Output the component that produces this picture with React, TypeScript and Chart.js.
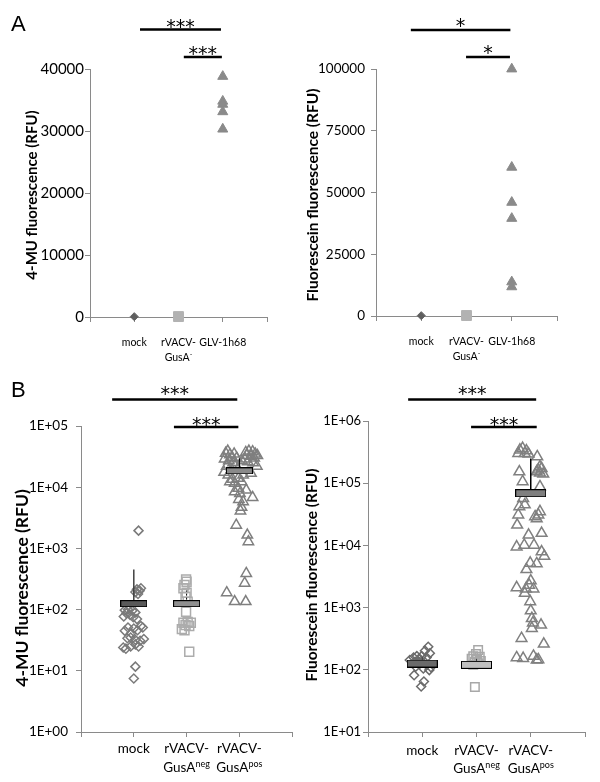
import React, { useEffect, useRef } from 'react';
import { Chart, registerables } from 'chart.js';

Chart.register(...registerables);

// ---------------- Panel A data ----------------
const A_CATEGORY_LINES: [string, string][][] = [
  [['mock', '']],
  [['rVACV-', ''], ['GusA', '-']],
  [['GLV-1h68', '']],
];
const A_4MU_MOCK = [60];
const A_4MU_GUSA = [70];
const A_4MU_GLV = [38800, 34800, 34300, 33100, 30300];
const A_FLUO_MOCK = [150];
const A_FLUO_GUSA = [200];
const A_FLUO_GLV = [100000, 60200, 46000, 39500, 13800, 11800];

// ---------------- Panel B data ----------------
const B_CATEGORY_LINES: [string, string][][] = [
  [['mock', '']],
  [['rVACV-', ''], ['GusA', 'neg']],
  [['rVACV-', ''], ['GusA', 'pos']],
];
const B_4MU_TICKS = [1, 10, 100, 1000, 10000, 100000];
const B_FLUO_TICKS = [10, 100, 1000, 10000, 100000, 1000000];

const B_4MU_MOCK_X = [1.09, 1.06, 1.11, 1.08, 1.135, 1.03, 0.83, 0.89, 0.97, 0.86, 0.93, 1.03, 0.81, 0.99, 1.06, 1.135, 0.89, 1.0, 0.83, 1.07, 0.95, 1.17, 0.94, 1.03, 1.12, 1.19, 0.88, 0.85, 0.94, 1.03, 1.09, 0.8, 1.03, 1.0];
const B_4MU_MOCK_Y = [1950, 214, 204, 180, 223, 193, 98, 100, 96, 87, 82, 90, 77, 75, 70, 54, 51, 49, 45, 46, 41, 51, 35, 32, 31, 33, 34, 23, 25, 27, 25, 24, 11.7, 7.5];

const B_4MU_NEG_X = [1.99, 2.0, 1.96, 1.94, 2.0, 1.98, 2.02, 1.99, 1.94, 2.02, 2.08, 1.98, 2.05, 1.91, 1.96, 2.05];
const B_4MU_NEG_Y = [310, 286, 252, 223, 189, 162, 135, 92, 61, 63, 61, 56, 54, 48, 46, 20.5];

const B_4MU_POS_X = [
  2.74, 2.78, 2.82, 2.86, 2.72, 2.8, 2.88, 2.93, 2.76, 2.97, 2.85, 2.71, 2.9, 2.95,
  3.12, 3.18, 3.25, 3.3, 3.14, 3.22, 3.1, 3.28, 3.34, 3.16, 3.26, 3.33, 3.05,
  2.79, 2.87, 2.82, 2.98, 3.07, 3.22, 2.91, 3.04, 2.98, 2.91, 3.01, 3.13, 3.25, 2.99, 3.07, 3.04, 3.02,
  2.94, 3.15, 3.17, 3.13, 3.1, 2.76, 2.91, 3.12,
];
const B_4MU_POS_Y = [
  36000, 39000, 34000, 31000, 29000, 27000, 25000, 23000, 22000, 20000, 19500, 17500, 35000, 30000,
  37000, 39000, 38000, 35000, 33000, 32000, 29000, 30000, 33000, 26000, 25000, 22000, 27000,
  15800, 13500, 12300, 14000, 15800, 16900, 11600, 12300, 9600, 8400, 7900, 9000, 6800, 6300, 5800, 4700, 4100,
  2400, 1650, 1290, 390, 270, 189, 135, 135,
];

const B_FLUO_MOCK_X = [1.11, 1.05, 1.14, 0.99, 1.08, 0.84, 0.9, 0.95, 0.77, 1.02, 0.87, 0.96, 1.08, 1.16, 1.13, 1.02, 0.88, 0.85, 1.03, 0.98];
const B_FLUO_MOCK_Y = [235, 203, 184, 166, 158, 158, 166, 148, 144, 140, 135, 127, 120, 110, 99, 105, 112, 82, 65, 54];

const B_FLUO_NEG_X = [2.03, 1.99, 1.94, 2.06, 1.91, 2.01, 2.08, 1.97, 2.04, 1.94, 1.97];
const B_FLUO_NEG_Y = [208, 180, 165, 162, 150, 145, 138, 135, 128, 120, 53];

const B_FLUO_POS_X = [
  2.8, 2.85, 2.92, 2.77, 2.89, 2.96, 3.12, 3.17, 3.14, 3.2, 3.11, 3.23, 3.17, 2.79, 2.85, 3.17,
  2.86, 2.79, 2.89, 2.77, 2.75, 3.17, 3.14, 3.08, 3.11, 2.96, 3.2, 2.74, 2.88, 3.06, 3.2, 3.25,
  2.99, 3.11, 2.92, 2.74, 3.0, 2.97, 2.91, 3.05, 2.89, 2.99, 3.0, 3.02, 3.04, 3.19, 3.02, 2.83,
  3.24, 2.74, 2.86, 3.05, 3.11, 3.14,
];
const B_FLUO_POS_Y = [
  342000, 364000, 333000, 302000, 302000, 295000, 267000, 184000, 163000, 173000, 153000, 141000, 146000, 153000, 106000, 88000,
  57000, 42000, 45000, 31000, 21300, 35000, 31000, 29000, 27000, 14700, 15700, 9500, 10100, 10100, 7900, 6700,
  5200, 5100, 4100, 2100, 2700, 2300, 2000, 2000, 1700, 1250, 890, 670, 570, 525, 465, 320,
  260, 157, 153, 166, 144, 146,
];

const B_4MU_MEANS = [125, 125, 18500];
const B_4MU_ERR_TOP = [450, 205, 29500];
const B_FLUO_MEANS = [126, 120, 69000];
const B_FLUO_ERR_TOP = [160, 150, 250000];

// ---------------- helpers ----------------
const AXIS = '#8a8a8a';

function pts(xs: number[], ys: number[]) {
  return xs.map((x, i) => ({ x, y: ys[i] }));
}
function atX(x: number, ys: number[]) {
  return ys.map((y) => ({ x, y }));
}
function makeBox(w: number, h: number, fill: string) {
  const c = document.createElement('canvas');
  c.width = w;
  c.height = h;
  const g = c.getContext('2d')!;
  g.fillStyle = fill;
  g.fillRect(0, 0, w, h);
  g.strokeStyle = '#000';
  g.lineWidth = 1;
  g.strokeRect(0.5, 0.5, w - 1, h - 1);
  return c;
}
function scat(data: any[], style: string, r: number, color: string, fill: string, bw = 1.5) {
  return {
    type: 'scatter',
    data,
    pointStyle: style,
    pointRadius: r,
    borderColor: color,
    backgroundColor: fill,
    pointBorderWidth: bw,
    borderWidth: bw,
    showLine: false,
    clip: false,
  };
}
function errLine(x: number, lo: number, hi: number, color: string, width: number, dash: number[] = []) {
  return {
    type: 'line',
    data: [{ x, y: lo }, { x, y: hi }],
    borderColor: color,
    borderWidth: width,
    borderDash: dash,
    pointRadius: 0,
    showLine: true,
    fill: false,
    clip: false,
  };
}
function boxDs(x: number, y: number, w: number, h: number, fill: string) {
  return {
    type: 'scatter',
    data: [{ x, y }],
    pointStyle: makeBox(w, h, fill),
    pointRadius: 5,
    clip: false,
  };
}
const expLabel = (v: any) => {
  const e = Math.round(Math.log10(Number(v)));
  return '1E+' + (e < 10 ? '0' : '') + e;
};
const plainLabel = (v: any) => String(v);

interface SigBar {
  from: number;
  to: number;
  y: number;
  stars: string;
  starDy: number;
}
interface PanelSpec {
  width: number;
  height: number;
  area: { left: number; top: number; right: number; bottom: number };
  yScale: any;
  tickSize: number;
  tickPad: number;
  yTitle: string;
  yTitleSize: number;
  yTitleX: number;
  yTitleY: number;
  catLines: [string, string][][];
  catSize: number;
  supSize: number;
  catY: number;
  catGap: number;
  sig: SigBar[];
  letter?: { text: string; x: number; y: number };
  datasets: () => any[];
}

function annotationPlugin(spec: PanelSpec) {
  return {
    id: 'annot',
    afterDraw(chart: any) {
      const ctx: CanvasRenderingContext2D = chart.ctx;
      const xs = chart.scales.x;
      ctx.save();
      // significance bars
      for (const s of spec.sig) {
        const x1 = xs.getPixelForValue(s.from);
        const x2 = xs.getPixelForValue(s.to);
        ctx.strokeStyle = '#000';
        ctx.lineWidth = 2.5;
        ctx.beginPath();
        ctx.moveTo(x1, s.y);
        ctx.lineTo(x2, s.y);
        ctx.stroke();
        ctx.fillStyle = '#000';
        ctx.font = '19px "DejaVu Sans"';
        ctx.textAlign = 'center';
        ctx.textBaseline = 'alphabetic';
        ctx.fillText(s.stars, (x1 + x2) / 2, s.y + s.starDy);
      }
      // category labels
      ctx.fillStyle = '#000';
      spec.catLines.forEach((lines, i) => {
        const cx = xs.getPixelForValue(i + 1);
        lines.forEach(([main, sup], j) => {
          const y = spec.catY + j * spec.catGap;
          ctx.font = `${spec.catSize}px Lato`;
          const w1 = ctx.measureText(main).width;
          ctx.font = `${spec.supSize}px Lato`;
          const w2 = sup ? ctx.measureText(sup).width : 0;
          const x0 = cx - (w1 + w2) / 2;
          ctx.textAlign = 'left';
          ctx.textBaseline = 'middle';
          ctx.font = `${spec.catSize}px Lato`;
          ctx.fillText(main, x0, y);
          if (sup) {
            ctx.font = `${spec.supSize}px Lato`;
            ctx.fillText(sup, x0 + w1, y - spec.catSize * 0.3);
          }
        });
      });
      // y axis title
      ctx.save();
      ctx.translate(spec.yTitleX, spec.yTitleY);
      ctx.rotate(-Math.PI / 2);
      ctx.font = `bold ${spec.yTitleSize}px Lato`;
      ctx.textAlign = 'center';
      ctx.textBaseline = 'middle';
      ctx.fillText(spec.yTitle, 0, 0);
      ctx.restore();
      // panel letter
      if (spec.letter) {
        ctx.font = '22px "Liberation Sans"';
        ctx.textAlign = 'left';
        ctx.textBaseline = 'alphabetic';
        ctx.fillText(spec.letter.text, spec.letter.x, spec.letter.y);
      }
      ctx.restore();
    },
  };
}

function buildConfig(spec: PanelSpec): any {
  const a = spec.area;
  return {
    type: 'scatter',
    data: { datasets: spec.datasets() },
    options: {
      responsive: false,
      maintainAspectRatio: false,
      animation: false,
      events: [],
      layout: { padding: { left: 0, top: a.top, right: spec.width - a.right, bottom: 0 } },
      plugins: { legend: { display: false }, tooltip: { enabled: false } },
      scales: {
        x: {
          type: 'linear',
          min: 0,
          max: 4,
          afterFit: (s: any) => {
            s.height = spec.height - a.bottom;
          },
          ticks: { stepSize: 1, callback: () => '', padding: 0 },
          grid: { drawOnChartArea: false, drawTicks: true, tickLength: 5, color: AXIS, lineWidth: 1 },
          border: { display: true, color: AXIS, width: 1 },
        },
        y: {
          ...spec.yScale,
          afterFit: (s: any) => {
            s.width = a.left;
          },
          ticks: {
            ...(spec.yScale.ticks || {}),
            font: { family: 'Lato', size: spec.tickSize },
            color: '#000',
            padding: spec.tickPad,
          },
          grid: { drawOnChartArea: false, drawTicks: true, tickLength: 5, color: AXIS, lineWidth: 1 },
          border: { display: true, color: AXIS, width: 1 },
        },
      },
    },
    plugins: [annotationPlugin(spec)],
  };
}

// ---------------- panel specs ----------------
const SPEC_A1: PanelSpec = {
  width: 300,
  height: 372,
  area: { left: 90, top: 69, right: 267, bottom: 317 },
  yScale: { type: 'linear', min: 0, max: 40000, ticks: { stepSize: 10000, callback: plainLabel } },
  tickSize: 15,
  tickPad: 1,
  yTitle: '4-MU fluorescence (RFU)',
  yTitleSize: 15,
  yTitleX: 32,
  yTitleY: 195,
  catLines: A_CATEGORY_LINES,
  catSize: 10.5,
  supSize: 7,
  catY: 343,
  catGap: 15,
  sig: [
    { from: 1.13, to: 2.96, y: 29.5, stars: '***', starDy: 3 },
    { from: 2.12, to: 2.98, y: 57, stars: '***', starDy: 3 },
  ],
  letter: { text: 'A', x: 11, y: 31 },
  datasets: () => [
    scat(atX(1, A_4MU_MOCK), 'rectRot', 4, '#5f5f5f', '#5f5f5f', 1),
    scat(atX(2, A_4MU_GUSA), 'rect', 7, '#b2b2b2', '#b2b2b2', 1),
    scat(atX(3, A_4MU_GLV), 'triangle', 5.8, '#8a8a8a', '#8a8a8a', 1),
  ],
};

const SPEC_A2: PanelSpec = {
  width: 300,
  height: 372,
  area: { left: 76, top: 69, right: 257, bottom: 316 },
  yScale: { type: 'linear', min: 0, max: 100000, ticks: { stepSize: 25000, callback: plainLabel } },
  tickSize: 13.5,
  tickPad: 6,
  yTitle: 'Fluorescein fluorescence (RFU)',
  yTitleSize: 15.5,
  yTitleX: 13,
  yTitleY: 195,
  catLines: A_CATEGORY_LINES,
  catSize: 10.5,
  supSize: 7,
  catY: 342,
  catGap: 14.5,
  sig: [
    { from: 0.77, to: 2.97, y: 30, stars: '*', starDy: 2 },
    { from: 1.99, to: 2.96, y: 57, stars: '*', starDy: 2 },
  ],
  datasets: () => [
    scat(atX(1, A_FLUO_MOCK), 'rectRot', 4, '#5f5f5f', '#5f5f5f', 1),
    scat(atX(2, A_FLUO_GUSA), 'rect', 7, '#b2b2b2', '#b2b2b2', 1),
    scat(atX(3, A_FLUO_GLV), 'triangle', 5.8, '#8a8a8a', '#8a8a8a', 1),
  ],
};

const SPEC_B1: PanelSpec = {
  width: 300,
  height: 410,
  area: { left: 81, top: 54, right: 297, bottom: 360 },
  yScale: {
    type: 'logarithmic',
    min: 1,
    max: 100000,
    afterBuildTicks: (s: any) => {
      s.ticks = B_4MU_TICKS.map((v) => ({ value: v }));
    },
    ticks: { callback: expLabel },
  },
  tickSize: 13.5,
  tickPad: 8,
  yTitle: '4-MU fluorescence (RFU)',
  yTitleSize: 17.5,
  yTitleX: 22,
  yTitleY: 216,
  catLines: B_CATEGORY_LINES,
  catSize: 13.5,
  supSize: 9,
  catY: 377,
  catGap: 19,
  sig: [
    { from: 0.59, to: 2.96, y: 27.5, stars: '***', starDy: 0.5 },
    { from: 1.76, to: 2.98, y: 55, stars: '***', starDy: 3.5 },
  ],
  letter: { text: 'B', x: 11, y: 25 },
  datasets: () => [
    boxDs(1, B_4MU_MEANS[0], 27, 7, '#595959'),
    boxDs(2, B_4MU_MEANS[1], 27, 7, '#8f8f8f'),
    boxDs(3, B_4MU_MEANS[2], 27, 7, '#8a8a8a'),
    errLine(1, B_4MU_MEANS[0], B_4MU_ERR_TOP[0], '#404040', 1.5),
    errLine(2, B_4MU_MEANS[1], B_4MU_ERR_TOP[1], '#000', 1, [2, 2]),
    errLine(3, B_4MU_MEANS[2], B_4MU_ERR_TOP[2], '#000', 1),
    scat(pts(B_4MU_MOCK_X, B_4MU_MOCK_Y), 'rectRot', 4.5, '#7a7a7a', 'rgba(255,255,255,0)'),
    scat(pts(B_4MU_NEG_X, B_4MU_NEG_Y), 'rect', 6.3, '#acacac', 'rgba(255,255,255,0)'),
    scat(pts(B_4MU_POS_X, B_4MU_POS_Y), 'triangle', 6, '#7f7f7f', 'rgba(255,255,255,0)'),
  ],
};

const SPEC_B2: PanelSpec = {
  width: 300,
  height: 410,
  area: { left: 68, top: 49, right: 285, bottom: 360 },
  yScale: {
    type: 'logarithmic',
    min: 10,
    max: 1000000,
    afterBuildTicks: (s: any) => {
      s.ticks = B_FLUO_TICKS.map((v) => ({ value: v }));
    },
    ticks: { callback: expLabel },
  },
  tickSize: 13,
  tickPad: 2,
  yTitle: 'Fluorescein fluorescence (RFU)',
  yTitleSize: 15.5,
  yTitleX: 12,
  yTitleY: 203,
  catLines: B_CATEGORY_LINES,
  catSize: 13.5,
  supSize: 9,
  catY: 379,
  catGap: 18,
  sig: [
    { from: 0.74, to: 3.1, y: 27.5, stars: '***', starDy: 0.5 },
    { from: 1.9, to: 3.11, y: 55, stars: '***', starDy: 3.5 },
  ],
  datasets: () => [
    boxDs(1, B_FLUO_MEANS[0], 31, 8, '#6a6a6a'),
    boxDs(2, B_FLUO_MEANS[1], 31, 8, '#c0c0c0'),
    boxDs(3, B_FLUO_MEANS[2], 31, 8, '#7f7f7f'),
    errLine(1, B_FLUO_MEANS[0], B_FLUO_ERR_TOP[0], '#404040', 1),
    errLine(2, B_FLUO_MEANS[1], B_FLUO_ERR_TOP[1], '#404040', 1),
    errLine(3, B_FLUO_MEANS[2], B_FLUO_ERR_TOP[2], '#000', 1.5),
    scat(pts(B_FLUO_MOCK_X, B_FLUO_MOCK_Y), 'rectRot', 4.5, '#6b6b6b', 'rgba(255,255,255,0)'),
    scat(pts(B_FLUO_NEG_X, B_FLUO_NEG_Y), 'rect', 6, '#a8a8a8', 'rgba(255,255,255,0)'),
    scat(pts(B_FLUO_POS_X, B_FLUO_POS_Y), 'triangle', 6.2, '#808080', 'rgba(255,255,255,0)'),
  ],
};

function ChartPanel({ spec, left, top }: { spec: PanelSpec; left: number; top: number }) {
  const ref = useRef<HTMLCanvasElement>(null);
  useEffect(() => {
    const chart = new Chart(ref.current!, buildConfig(spec));
    return () => chart.destroy();
  }, [spec]);
  return (
    <canvas
      ref={ref}
      width={spec.width}
      height={spec.height}
      style={{ position: 'absolute', left, top, width: spec.width, height: spec.height }}
    />
  );
}

export default function App() {
  return (
    <div style={{ position: 'absolute', left: 0, top: 0, width: 600, height: 782, background: '#fff', overflow: 'hidden' }}>
      <ChartPanel spec={SPEC_A1} left={0} top={0} />
      <ChartPanel spec={SPEC_A2} left={300} top={0} />
      <ChartPanel spec={SPEC_B1} left={0} top={372} />
      <ChartPanel spec={SPEC_B2} left={300} top={372} />
    </div>
  );
}
